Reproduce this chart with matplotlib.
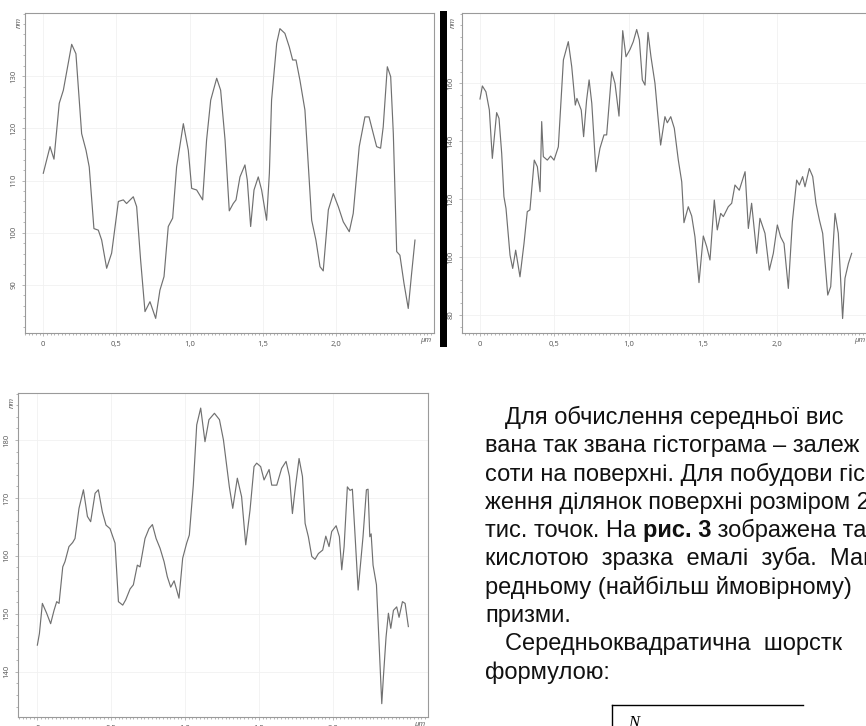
import matplotlib
matplotlib.use("Agg")
import matplotlib.pyplot as plt
from matplotlib.lines import Line2D
from matplotlib.patches import Rectangle
from matplotlib.ticker import FixedLocator, FixedFormatter, MultipleLocator

# ---------------- data ----------------
x_ticks = [0.0, 0.5, 1.0, 1.5, 2.0]
x_tick_labels = ["0", "0,5", "1,0", "1,5", "2,0"]

p1_um = [0, 0.046, 0.073, 0.109, 0.137, 0.194, 0.223, 0.262, 0.292, 0.314, 0.346, 0.376, 0.399,
         0.433, 0.467, 0.513, 0.547, 0.569, 0.615, 0.638, 0.665, 0.695, 0.729, 0.768, 0.797,
         0.825, 0.854, 0.884, 0.911, 0.957, 0.991, 1.014, 1.048, 1.089, 1.116, 1.144, 1.185,
         1.212, 1.242, 1.271, 1.298, 1.317, 1.344, 1.378, 1.394, 1.417, 1.440, 1.469, 1.492,
         1.526, 1.545, 1.560, 1.595, 1.617, 1.651, 1.681, 1.704, 1.727, 1.754, 1.788, 1.834,
         1.863, 1.891, 1.913, 1.948, 1.982, 2.016, 2.050, 2.091, 2.118, 2.159, 2.198, 2.226,
         2.255, 2.278, 2.305, 2.323, 2.351, 2.374, 2.392, 2.415, 2.437, 2.465, 2.494, 2.517, 2.540]
p1_nm = [111.4, 116.5, 114.1, 124.8, 127.3, 136.1, 134.3, 119.0, 115.8, 112.6, 100.8, 100.5, 98.6,
         93.2, 96.1, 106.0, 106.3, 105.6, 106.9, 105.0, 94.8, 84.9, 86.8, 83.6, 89.0,
         91.6, 101.2, 102.8, 112.6, 120.9, 115.8, 108.5, 108.2, 106.3, 117.8, 125.4, 129.6,
         127.3, 117.8, 104.2, 105.6, 106.3, 110.7, 113.0, 110.1, 101.2, 108.2, 110.7, 108.2,
         102.4, 111.4, 125.4, 136.3, 139.1, 138.2, 135.6, 133.1, 133.1, 129.2, 123.5, 102.4,
         98.6, 93.5, 92.7, 104.4, 107.5, 105.0, 102.1, 100.2, 103.7, 116.5, 122.2, 122.2,
         119.0, 116.5, 116.2, 120.3, 131.8, 129.9, 119.0, 96.4, 95.7, 90.3, 85.5, 92.2, 98.6]
p1_yticks = [90, 100, 110, 120, 130]

p2_um = [0, 0.016, 0.040, 0.063, 0.083, 0.112, 0.128, 0.146, 0.161, 0.175, 0.202, 0.220, 0.240,
         0.269, 0.296, 0.318, 0.336, 0.365, 0.386, 0.404, 0.415, 0.426, 0.453, 0.475, 0.498,
         0.527, 0.561, 0.594, 0.617, 0.641, 0.652, 0.681, 0.697, 0.717, 0.734, 0.752, 0.780,
         0.807, 0.834, 0.852, 0.886, 0.908, 0.935, 0.960, 0.982, 1.009, 1.031, 1.054, 1.072,
         1.092, 1.110, 1.130, 1.150, 1.177, 1.195, 1.215, 1.244, 1.260, 1.283, 1.307, 1.334,
         1.357, 1.372, 1.401, 1.424, 1.446, 1.473, 1.502, 1.525, 1.547, 1.576, 1.596, 1.619,
         1.637, 1.670, 1.693, 1.715, 1.744, 1.783, 1.805, 1.827, 1.861, 1.883, 1.917, 1.946,
         1.973, 2.000, 2.022, 2.045, 2.074, 2.101, 2.130, 2.148, 2.170, 2.186, 2.215, 2.238,
         2.260, 2.283, 2.305, 2.339, 2.359, 2.388, 2.410, 2.439, 2.455, 2.478, 2.500]
p2_nm = [154.6, 159.1, 157.1, 150.8, 134.1, 149.9, 147.9, 135.8, 120.9, 116.8, 100.7, 96.1, 102.4,
         93.2, 104.7, 115.7, 116.3, 133.5, 131.2, 122.6, 146.8, 134.7, 133.5, 134.9, 133.5,
         138.1, 168.1, 174.4, 165.8, 152.5, 154.8, 150.8, 141.6, 154.2, 161.2, 153.1, 129.5,
         137.6, 142.2, 142.2, 164.0, 160.0, 148.7, 178.2, 169.2, 171.7, 174.4, 178.6, 175.0,
         161.2, 159.4, 177.6, 169.2, 160.0, 149.6, 138.7, 148.5, 146.4, 148.5, 144.5, 133.5,
         126.0, 111.9, 117.4, 114.2, 107.0, 91.2, 107.3, 103.6, 99.0, 119.7, 109.4, 115.1,
         114.0, 117.4, 118.6, 124.9, 123.1, 129.5, 109.9, 118.6, 101.3, 113.4, 108.2, 95.5,
         101.3, 111.1, 107.0, 104.7, 89.2, 112.2, 126.6, 124.9, 127.8, 124.3, 130.6, 127.8,
         118.6, 112.8, 108.2, 86.9, 89.8, 115.1, 108.2, 78.8, 92.7, 97.8, 101.3]
p2_yticks = [80, 100, 120, 140, 160]

p3_um = [0, 0.014, 0.034, 0.063, 0.090, 0.113, 0.131, 0.147, 0.172, 0.187, 0.214, 0.239, 0.255,
         0.282, 0.312, 0.339, 0.361, 0.391, 0.413, 0.440, 0.465, 0.492, 0.526, 0.549, 0.578,
         0.598, 0.628, 0.650, 0.677, 0.695, 0.729, 0.756, 0.779, 0.804, 0.831, 0.858, 0.880,
         0.903, 0.926, 0.959, 0.984, 1.011, 1.029, 1.056, 1.079, 1.106, 1.135, 1.162, 1.199,
         1.233, 1.260, 1.300, 1.323, 1.354, 1.383, 1.411, 1.440, 1.467, 1.485, 1.512, 1.535,
         1.569, 1.587, 1.621, 1.654, 1.684, 1.707, 1.727, 1.745, 1.772, 1.795, 1.813, 1.835,
         1.858, 1.880, 1.903, 1.932, 1.953, 1.975, 1.993, 2.023, 2.045, 2.061, 2.077, 2.099,
         2.117, 2.133, 2.149, 2.172, 2.205, 2.228, 2.239, 2.251, 2.260, 2.273, 2.296, 2.332,
         2.343, 2.361, 2.377, 2.393, 2.411, 2.433, 2.449, 2.472, 2.490, 2.512]
p3_nm = [144.6, 146.6, 151.8, 150.1, 148.3, 150.6, 152.1, 151.8, 158.1, 159.0, 161.6, 162.3, 163.0,
         168.2, 171.4, 166.8, 165.9, 170.8, 171.4, 167.6, 165.3, 164.7, 162.2, 152.1, 151.5,
         152.4, 154.3, 155.0, 158.4, 158.1, 163.0, 164.7, 165.4, 163.0, 161.3, 159.0, 156.4,
         154.6, 155.7, 152.7, 159.6, 162.2, 163.6, 172.2, 182.6, 185.5, 179.7, 183.5, 184.6,
         183.5, 180.0, 171.9, 168.2, 173.4, 170.2, 161.9, 167.9, 175.4, 176.0, 175.4, 173.1,
         174.9, 172.2, 172.2, 175.1, 176.3, 173.7, 167.3, 171.4, 176.8, 173.7, 165.6, 163.3,
         159.9, 159.4, 160.4, 161.0, 163.4, 161.6, 164.2, 165.2, 163.3, 157.6, 161.6, 171.9,
         171.3, 171.5, 164.5, 154.1, 163.3, 171.4, 171.5, 163.3, 163.8, 158.4, 155.0, 134.5,
         139.1, 146.0, 150.1, 147.5, 150.6, 151.2, 149.4, 152.1, 151.8, 147.8]
p3_yticks = [140, 150, 160, 170, 180]

text_lines = [
    "Для обчислення середньої вис",
    "вана так звана гістограма – залеж",
    "соти на поверхні. Для побудови гіс",
    "ження ділянок поверхні розміром 2",
    None,  # line with bold part
    "кислотою  зразка  емалі  зуба.  Мак",
    "редньому (найбільш ймовірному)",
    "призми.",
    "Середньоквадратична  шорстк",
    "формулою:",
]
line5_parts = [("тис. точок. На ", "normal"), ("рис. 3", "bold"), (" зображена та", "normal")]

# ---------------- figure ----------------
W, H = 866, 726
fig = plt.figure(figsize=(W / 100, H / 100), dpi=100)
fig.patch.set_facecolor("white")

LINE_C = "#707070"
SPINE_C = "#9a9a9a"
TICK_C = "#555555"
TFONT = "Open Sans"


def px_axes(left, top, right, bottom):
    return fig.add_axes([left / W, 1 - bottom / H, (right - left) / W, (bottom - top) / H])


def style(ax, xlim, ylim, yticks, yminor):
    ax.set_xlim(*xlim)
    ax.set_ylim(*ylim)
    ax.xaxis.set_major_locator(FixedLocator(x_ticks))
    ax.xaxis.set_major_formatter(FixedFormatter(x_tick_labels))
    ax.xaxis.set_minor_locator(MultipleLocator(0.025))
    ax.yaxis.set_major_locator(FixedLocator(yticks))
    ax.yaxis.set_minor_locator(MultipleLocator(yminor))
    ax.tick_params(which="both", direction="out", color=SPINE_C, width=0.5,
                   labelsize=5.5, labelcolor=TICK_C, pad=3)
    ax.tick_params(which="major", length=2.5)
    ax.tick_params(which="minor", length=1.5)
    for lab in ax.get_yticklabels():
        lab.set_rotation(90)
        lab.set_va("center")
        lab.set_family(TFONT)
    for lab in ax.get_xticklabels():
        lab.set_family(TFONT)
    for s in ax.spines.values():
        s.set_color(SPINE_C)
        s.set_linewidth(0.8)
    ax.grid(True, which="major", color="#f1f1f1", linewidth=0.6)
    ax.set_axisbelow(True)


# chart 1
ax1 = px_axes(25, 13, 434, 333)
ax1.plot(p1_um, p1_nm, color=LINE_C, linewidth=0.85)
style(ax1, (-0.125, 2.67), (80.8, 142.1), p1_yticks, 2)

# chart 2 (extends past the right page edge)
ax2 = px_axes(462, 13, 871, 333)
ax2.plot(p2_um, p2_nm, color=LINE_C, linewidth=0.85)
style(ax2, (-0.121, 2.63), (73.8, 184.3), p2_yticks, 4)

# chart 3
ax3 = px_axes(18, 393, 428, 717)
ax3.plot(p3_um, p3_nm, color=LINE_C, linewidth=0.85)
style(ax3, (-0.131, 2.645), (132.2, 188.1), p3_yticks, 2)


def ptext(x, y, s, **kw):
    return fig.text(x / W, 1 - y / H, s, **kw)


# unit labels
for (x, y) in [(19, 22), (453, 22), (12, 402)]:
    ptext(x, y, "nm", rotation=90, fontsize=5.5, style="italic", color=TICK_C,
          ha="center", va="center", family=TFONT)
for (x, y) in [(426, 341), (860, 341), (420, 725)]:
    ptext(x, y, "μm", fontsize=5.5, style="italic", color=TICK_C,
          ha="center", va="center", family=TFONT)

# black separator bar
fig.patches.append(Rectangle((440 / W, 1 - 347 / H), 7 / W, 336 / H,
                             transform=fig.transFigure, facecolor="black",
                             edgecolor="none", zorder=5))

# body text
BFONT = "Liberation Sans"
BSIZE = 17
TXT_C = "#111111"
base0 = 424
step = 28.3
xs = {0: 505, 8: 505}
renderer = fig.canvas.get_renderer()
for k, line in enumerate(text_lines):
    y = base0 + step * k
    x = xs.get(k, 485)
    if line is None:
        cx = x
        for s, w in line5_parts:
            t = ptext(cx, y, s, fontsize=BSIZE, family=BFONT, weight=w,
                      color=TXT_C, va="baseline", ha="left")
            bb = t.get_window_extent(renderer=renderer)
            cx = bb.x1
        continue
    ptext(x, y, line, fontsize=BSIZE, family=BFONT, color=TXT_C,
          va="baseline", ha="left")

# formula fragment (radical)
fig.add_artist(Line2D([612 / W, 803 / W], [1 - 705 / H, 1 - 705 / H],
                      transform=fig.transFigure, color="black", linewidth=1.0))
fig.add_artist(Line2D([612 / W, 612 / W], [1 - 705 / H, 0],
                      transform=fig.transFigure, color="black", linewidth=1.0))
ptext(628, 727, "N", fontsize=12, family="Liberation Serif", style="italic",
      color="black", va="baseline", ha="left")

fig.savefig("out.png", dpi=100)
